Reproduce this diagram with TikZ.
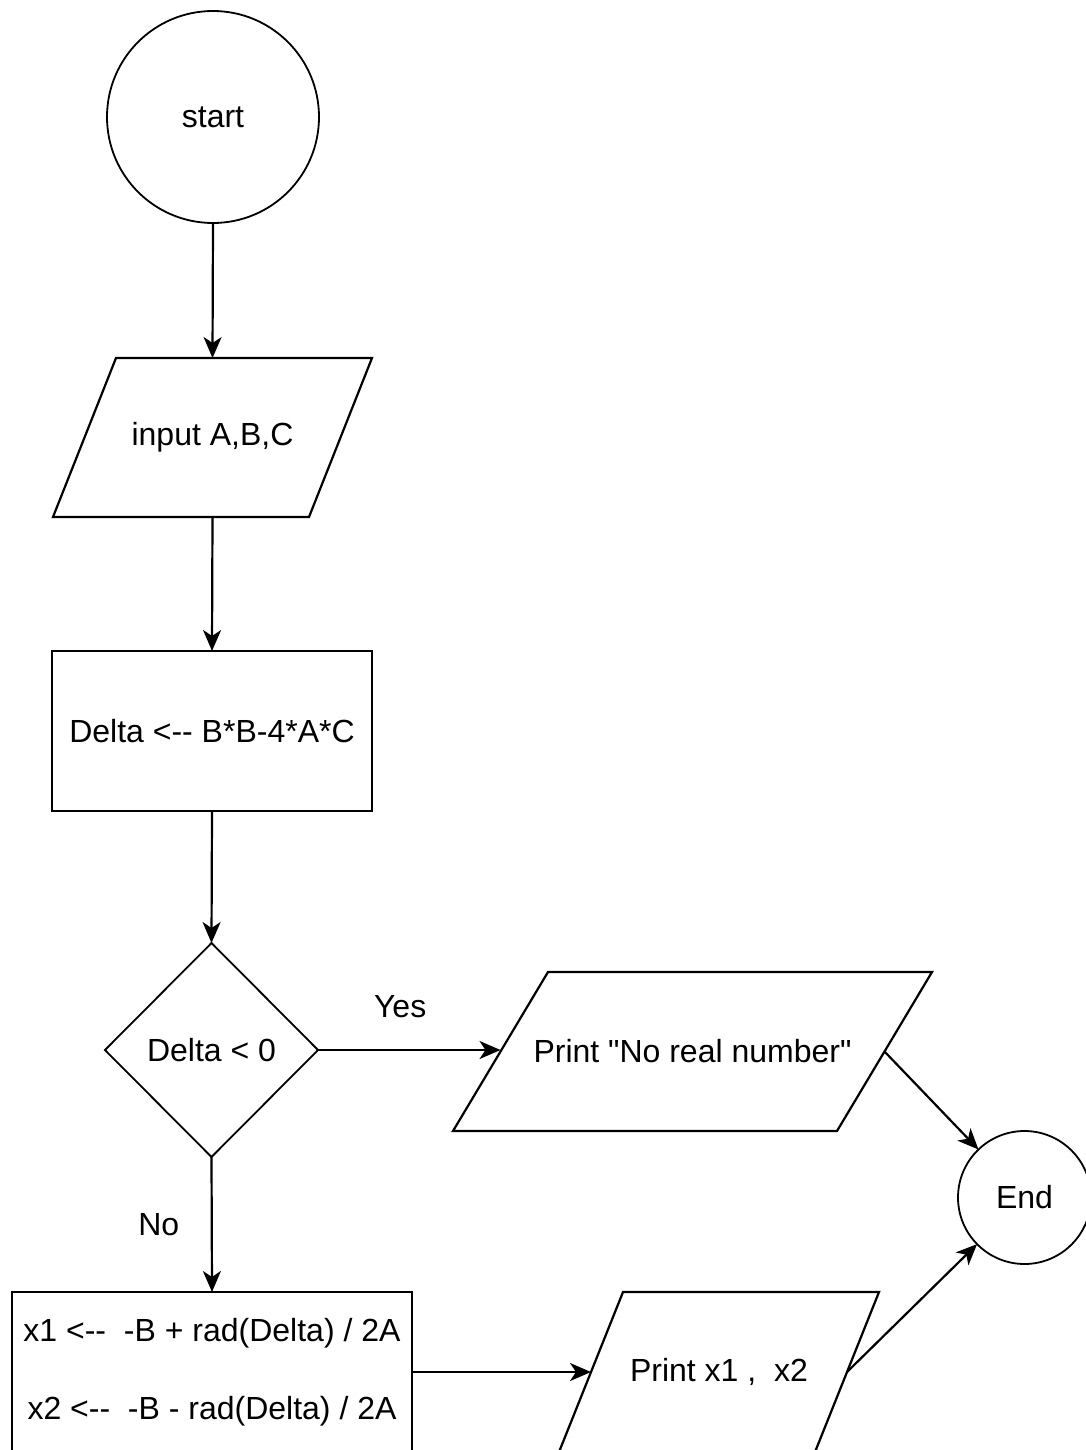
\documentclass[tikz,border=0pt]{standalone}
\usepackage{fontspec}
\setmainfont{Liberation Sans}[Ligatures=TeXOff]
\usetikzlibrary{shapes.geometric,arrows.meta}
\newcommand\slantbox[2]{%
  \draw[shapeline] ([xshift=#2]#1.north west) -- ([xshift=#2]#1.north east)
    -- ([xshift=-#2]#1.south east) -- ([xshift=-#2]#1.south west) -- cycle;}
\begin{document}
\begin{tikzpicture}[x=1pt,y=-1pt,
  shapeline/.style={line width=2.2pt, line join=miter},
  base/.style={draw, line width=2.2pt, inner sep=0pt, outer sep=0pt, font=\fontsize{32}{38}\selectfont},
  term/.style={base, circle, line width=1.8pt},
  io/.style={base, rectangle, draw=none},
  proc/.style={base, rectangle},
  dec/.style={base, diamond, line width=1.8pt},
  conn/.style={line width=2.2pt, -{Stealth[length=21pt,width=18pt,inset=6pt]}},
  lbl/.style={font=\fontsize{32}{38}\selectfont}
]
\useasboundingbox (0,0) rectangle (1086,1450);

\node[term, minimum size=212pt] (begin) at (213,117) {start};
\node[io, minimum width=256pt, minimum height=159pt] (input) at (212.5,437.5) {input A,B,C};
\slantbox{input}{31.5pt}
\node[proc, minimum width=320pt, minimum height=160pt] (calc) at (212,731) {Delta <-- B*B-4*A*C};
\node[dec, minimum width=213pt, minimum height=214pt] (test) at (211.5,1050) {Delta < 0};
\node[io, minimum width=384pt, minimum height=159pt] (p1) at (692.5,1051.5) {Print "No real number"};
\slantbox{p1}{47.5pt}
\node[proc, minimum width=400pt, minimum height=160pt, align=center,
      font=\fontsize{32}{78}\selectfont] (roots) at (212,1372)
      {x1 <--\ \ -B + rad(Delta) / 2A\\x2 <--\ \ -B - rad(Delta) / 2A};
\node[io, minimum width=256pt, minimum height=160pt] (p2) at (719,1372) {Print x1 ,\ \ x2};
\slantbox{p2}{32pt}
\node[term, minimum size=133pt] (stop) at (1024.5,1197.5) {End};

\draw[conn] (begin.south) -- (input.north);
\draw[conn] (input.south) -- (calc.north);
\draw[conn] (calc.south) -- (test.north);
\draw[conn] (test.east) -- (test.east -| p1.west) node[lbl, pos=0.45, yshift=43pt] {Yes};
\draw[conn] (test.south) -- (roots.north) node[lbl, midway, xshift=-53pt] {No};
\draw[conn] (roots.east) -- (roots.east -| p2.west);
\draw[conn] (p1.east) -- (stop);
\draw[conn] (p2.east) -- (stop);
\end{tikzpicture}
\end{document}
